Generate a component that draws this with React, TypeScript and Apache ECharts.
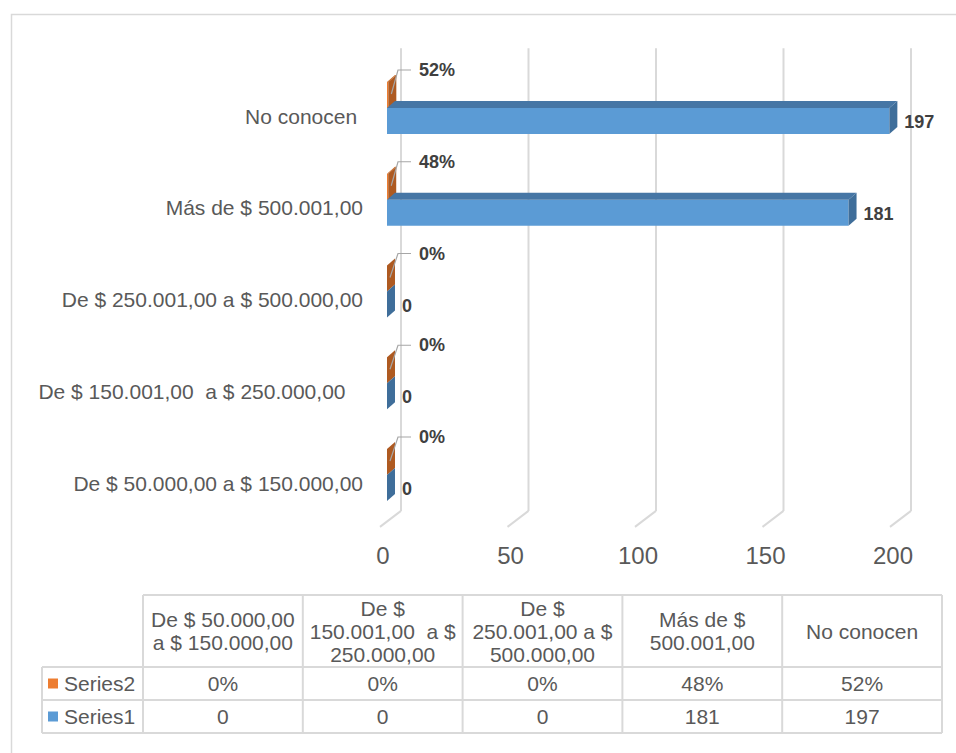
import React, { useEffect, useRef } from "react";
import * as echarts from "echarts";

// ---------- data ----------
const categories = [
  "De $ 50.000,00 a $ 150.000,00",
  "De $ 150.001,00  a $ 250.000,00   ",
  "De $ 250.001,00 a $ 500.000,00",
  "Más de $ 500.001,00",
  "No conocen ",
];
const series1Name = "Series1";
const series2Name = "Series2";
const series1Values = [0, 0, 0, 181, 197];
const series2Values = [0, 0, 0, 0.48, 0.52]; // shares, shown as percentages
const axisTicks = [0, 50, 100, 150, 200];

// ---------- styles ----------
const FONT = '"Liberation Sans", Arial, sans-serif';
const TEXT = "#595959";
const LABEL = "#404040";
const GRID = "#d9d9d9";
const BLUE = { front: "#5B9BD5", top: "#4676A5", side: "#3F6E9A" };
const ORANGE = { front: "#ED7D31", top: "#C8661F", side: "#AE5A21" };

const pct = (v: number) => `${Math.round(v * 100)}%`;

function wrapText(text: string, font: string, maxW: number): string {
  const canvas = document.createElement("canvas");
  const ctx = canvas.getContext("2d");
  if (!ctx) return text;
  ctx.font = font;
  const words = text.trim().split(" ");
  const lines: string[] = [];
  let cur = "";
  words.forEach((w, i) => {
    if (i === 0) {
      cur = w;
      return;
    }
    const cand = cur + " " + w;
    if (w !== "" && ctx.measureText(cand).width > maxW) {
      lines.push(cur.trim());
      cur = w;
    } else {
      cur = cand;
    }
  });
  lines.push(cur.trim());
  return lines.join("\n");
}

function barRenderer(kind: 1 | 2) {
  const col = kind === 1 ? BLUE : ORANGE;
  return (params: any, api: any) => {
    const val = api.value(0);
    const idx = api.value(1);
    const p0 = api.coord([0, idx]);
    const p1 = api.coord([val, idx]);
    const x0 = p0[0] + 4;
    const x1 = p1[0] + 4;
    const c = p0[1];
    const T = 26;
    const top = kind === 1 ? c - 8 : c - 8 - T;
    const bot = top + T;
    const dx = 8;
    const dy = 7;
    const children: any[] = [
      {
        type: "rect",
        shape: { x: x0, y: top, width: Math.max(x1 - x0, 0), height: T },
        style: { fill: col.front },
      },
      {
        type: "polygon",
        shape: { points: [[x0, top], [x1, top], [x1 + dx, top - dy], [x0 + dx, top - dy]] },
        style: { fill: col.top },
      },
      {
        type: "polygon",
        shape: { points: [[x1, top], [x1, bot], [x1 + dx, bot - dy], [x1 + dx, top - dy]] },
        style: { fill: col.side },
      },
    ];
    if (kind === 1) {
      children.push({
        type: "text",
        style: {
          text: String(val),
          x: x1 + dx + 7,
          y: c + 6,
          align: "left",
          verticalAlign: "middle",
          fill: LABEL,
          font: `bold 18px ${FONT}`,
        },
      });
    } else {
      children.push({
        type: "polyline",
        shape: { points: [[x1 + 3, c - 22], [x0 + 11, c - 46], [x0 + 24, c - 46]] },
        style: { stroke: "#a6a6a6", lineWidth: 1.2, fill: null },
      });
      children.push({
        type: "text",
        style: {
          text: pct(val),
          x: x0 + 32,
          y: c - 46,
          align: "left",
          verticalAlign: "middle",
          fill: LABEL,
          font: `bold 18px ${FONT}`,
        },
      });
    }
    return { type: "group", children };
  };
}

function gridRenderer(params: any, api: any) {
  const v = api.value(0);
  const X = api.coord([v, 0])[0];
  const cs = params.coordSys;
  const bottom = cs.y + cs.height;
  const topY = cs.y - 22;
  const floorY = bottom - 18;
  const frontY = bottom - 2;
  return {
    type: "group",
    children: [
      {
        type: "line",
        shape: { x1: X + 18, y1: topY, x2: X + 18, y2: floorY },
        style: { stroke: GRID, lineWidth: 2 },
      },
      {
        type: "line",
        shape: { x1: X + 18, y1: floorY, x2: X - 3, y2: frontY },
        style: { stroke: GRID, lineWidth: 2 },
      },
    ],
  };
}

function buildTable() {
  const left = 42;
  const colStart = 143;
  const colEnd = 942;
  const n = categories.length;
  const colW = (colEnd - colStart) / n;
  const headTop = 595;
  const r1 = 667;
  const r2 = 700;
  const r3 = 733;
  const font = `21px ${FONT}`;
  const els: any[] = [];
  const line = (x1: number, y1: number, x2: number, y2: number) =>
    els.push({ type: "line", shape: { x1, y1, x2, y2 }, style: { stroke: GRID, lineWidth: 2 } });
  line(colStart, headTop, colEnd, headTop);
  line(left, r1, colEnd, r1);
  line(left, r2, colEnd, r2);
  line(left, r3, colEnd, r3);
  line(left, r1, left, r3);
  for (let i = 0; i <= n; i++) {
    const x = colStart + i * colW;
    line(x, headTop, x, r3);
  }
  categories.forEach((cat, i) => {
    const cx = colStart + (i + 0.5) * colW;
    els.push({
      type: "text",
      style: {
        text: wrapText(cat, font, 150),
        x: cx,
        y: (headTop + r1) / 2,
        lineHeight: 23,
        align: "center",
        verticalAlign: "middle",
        fill: TEXT,
        font,
      },
    });
  });
  const rows = [
    { name: series2Name, color: ORANGE.front, vals: series2Values.map(pct), y: (r1 + r2) / 2 },
    { name: series1Name, color: BLUE.front, vals: series1Values.map(String), y: (r2 + r3) / 2 },
  ];
  rows.forEach((r) => {
    els.push({ type: "rect", shape: { x: 48, y: r.y - 5, width: 10, height: 10 }, style: { fill: r.color } });
    els.push({
      type: "text",
      style: { text: r.name, x: 64, y: r.y, align: "left", verticalAlign: "middle", fill: TEXT, font },
    });
    r.vals.forEach((t, i) => {
      els.push({
        type: "text",
        style: {
          text: t,
          x: colStart + (i + 0.5) * colW,
          y: r.y,
          align: "center",
          verticalAlign: "middle",
          fill: TEXT,
          font,
        },
      });
    });
  });
  els.push({
    type: "rect",
    shape: { x: 11.5, y: 14.5, width: 1000, height: 800 },
    style: { fill: "none", stroke: GRID, lineWidth: 1.5 },
  });
  return els;
}

export default function App() {
  const ref = useRef<HTMLDivElement>(null);
  useEffect(() => {
    if (!ref.current) return;
    const chart = echarts.init(ref.current, null, { renderer: "svg" });
    const bandTop = 116;
    const bandBottom = 483;
    const band = (bandBottom - bandTop) / (categories.length - 1);
    chart.setOption({
      animation: false,
      backgroundColor: "#ffffff",
      grid: {
        left: 383,
        width: 510,
        top: bandTop - band / 2,
        height: band * categories.length,
        containLabel: false,
      },
      xAxis: {
        type: "value",
        min: 0,
        max: 200,
        interval: 50,
        axisLine: { show: false },
        axisTick: { show: false },
        splitLine: { show: false },
        axisLabel: { fontSize: 24, color: TEXT, margin: 15, fontFamily: FONT },
      },
      yAxis: {
        type: "category",
        data: categories,
        axisLine: { show: false },
        axisTick: { show: false },
        splitLine: { show: false },
        axisLabel: { fontSize: 21, color: TEXT, margin: 20, fontFamily: FONT },
      },
      graphic: buildTable(),
      series: [
        {
          type: "custom",
          name: "grid",
          silent: true,
          z: 1,
          renderItem: gridRenderer,
          data: axisTicks.map((v) => [v, 0]),
          encode: { x: 0, y: 1 },
        },
        {
          type: "custom",
          name: series2Name,
          z: 3,
          renderItem: barRenderer(2),
          data: series2Values.map((v, i) => [v, i]),
          encode: { x: 0, y: 1 },
        },
        {
          type: "custom",
          name: series1Name,
          z: 4,
          renderItem: barRenderer(1),
          data: series1Values.map((v, i) => [v, i]),
          encode: { x: 0, y: 1 },
        },
      ],
    });
    return () => chart.dispose();
  }, []);
  return (
    <div
      ref={ref}
      style={{ position: "fixed", left: 0, top: 0, width: 956, height: 753, background: "#fff" }}
    />
  );
}
